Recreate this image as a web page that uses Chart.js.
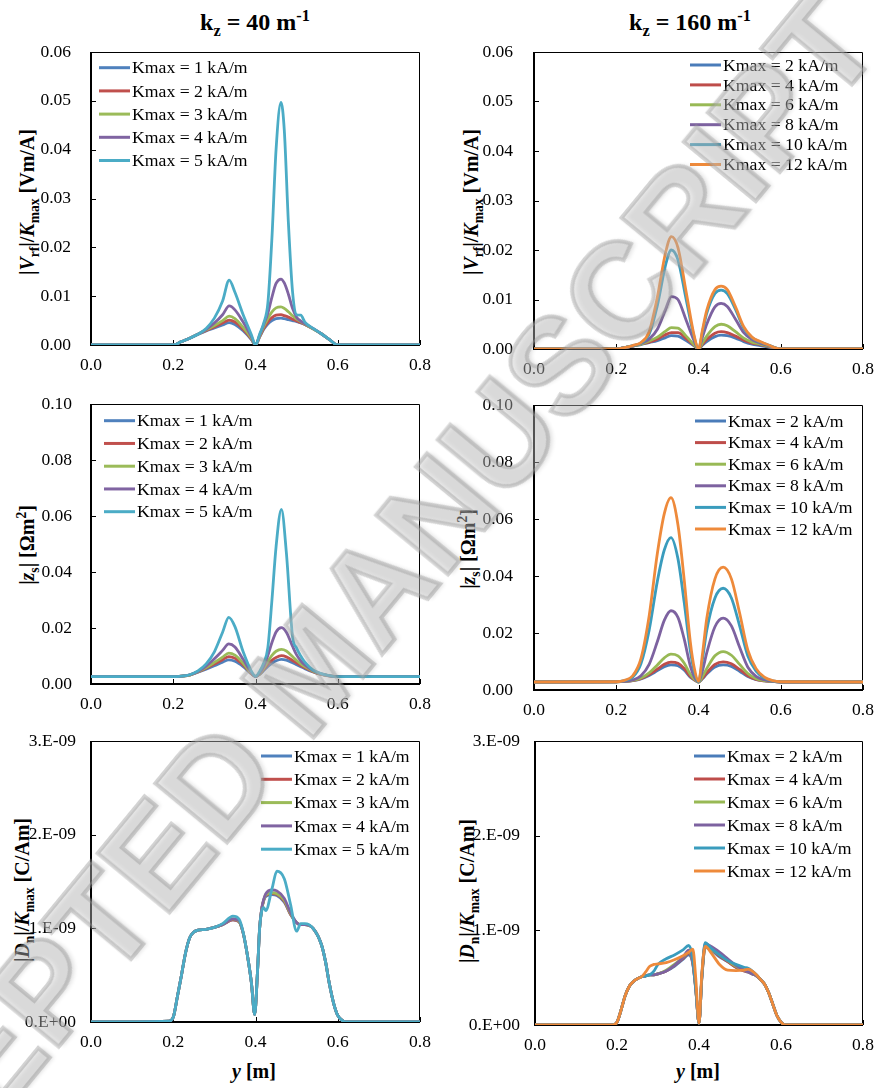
<!DOCTYPE html>
<html>
<head>
<meta charset="utf-8">
<script src="https://cdn.jsdelivr.net/npm/chart.js@4.4.1/dist/chart.umd.min.js"></script>
<style>
  body { margin: 0; background: #fff; }
  #page { position: relative; width: 875px; height: 1088px; overflow: hidden; background: #fff;
          font-family: 'Liberation Serif', 'Times New Roman', serif; color: #000; }
  canvas { position: absolute; }
  .lbl { position: absolute; white-space: nowrap; font-weight: bold; line-height: 1; }
  .lbl sub, .lbl sup { line-height: 0; font-size: 0.68em; }
  .ctitle { font-size: 24px; transform: translate(-50%, -50%); }
  .ytitle { font-size: 20px; transform: translate(-50%, -50%) rotate(-90deg); }
  .xtitle { font-size: 20px; transform: translate(-50%, -50%); }
  #mark { position: absolute; left: 310px; top: 668px; white-space: nowrap; pointer-events: none;
          font-family: 'Liberation Sans', sans-serif; font-weight: bold; font-size: 136px; line-height: 1;
          color: rgba(205, 205, 205, 0.4); -webkit-text-stroke: 4px rgba(150, 150, 150, 0.42);
          text-shadow: 3px 3px 4px rgba(0, 0, 0, 0.12);
          transform: translate(-50%, -50%) rotate(-50.5deg); }
</style>
</head>
<body>
<div id="page">
  <div class="lbl ctitle" style="left:255px;top:22px">k<sub>z</sub> = 40 m<sup>-1</sup></div>
  <div class="lbl ctitle" style="left:690px;top:22px">k<sub>z</sub> = 160 m<sup>-1</sup></div>

  <div class="lbl ytitle" style="left:27px;top:202px">|<i>V</i><sub>rf</sub>|/<i>K</i><sub>max</sub> [Vm/A]</div>
  <div class="lbl ytitle" style="left:471px;top:202px">|<i>V</i><sub>rf</sub>|/<i>K</i><sub>max</sub> [Vm/A]</div>
  <div class="lbl ytitle" style="left:27px;top:545px">|<i>z</i><sub>s</sub>| [Ωm<sup>2</sup>]</div>
  <div class="lbl ytitle" style="left:468px;top:549px">|<i>z</i><sub>s</sub>| [Ωm<sup>2</sup>]</div>
  <div class="lbl ytitle" style="left:22px;top:890px">|<i>D</i><sub>n</sub>|/<i>K</i><sub>max</sub> [C/Am]</div>
  <div class="lbl ytitle" style="left:467px;top:891px">|<i>D</i><sub>n</sub>|/<i>K</i><sub>max</sub> [C/Am]</div>

  <div class="lbl xtitle" style="left:254px;top:1071px"><i>y</i> [m]</div>
  <div class="lbl xtitle" style="left:698px;top:1071px"><i>y</i> [m]</div>

  <div id="mark">ACCEPTED MANUSCRIPT</div>
</div>

<script>
// legend labels
const kmax40 = ['Kmax = 1 kA/m', 'Kmax = 2 kA/m', 'Kmax = 3 kA/m', 'Kmax = 4 kA/m', 'Kmax = 5 kA/m'];
const kmax160 = ['Kmax = 2 kA/m', 'Kmax = 4 kA/m', 'Kmax = 6 kA/m', 'Kmax = 8 kA/m', 'Kmax = 10 kA/m', 'Kmax = 12 kA/m'];

const colors40 = ['#4F81BD', '#C0504D', '#9BBB59', '#8064A2', '#4BACC6'];
const colors160 = ['#4A7CB9', '#BE4D4A', '#98B955', '#7D62A0', '#3A9CBD', '#EE8A3B'];

// |Vrf|/Kmax, kz = 40
const yA = [0, 0.2, 0.22, 0.24, 0.26, 0.28, 0.30, 0.32, 0.336, 0.35, 0.37, 0.39, 0.40, 0.41, 0.42, 0.43, 0.44, 0.45, 0.462, 0.47, 0.48, 0.49, 0.50, 0.51, 0.52, 0.54, 0.56, 0.58, 0.60, 0.8];
const vrf40_k1 = [0, 0, 0.0007, 0.0014, 0.0022, 0.0029, 0.0035, 0.0041, 0.0046, 0.0042, 0.0029, 0.0011, 0, 0.0016, 0.0032, 0.0043, 0.0050, 0.0054, 0.0055, 0.0054, 0.0052, 0.0050, 0.0048, 0.0045, 0.0042, 0.0033, 0.0023, 0.0011, 0, 0];
const vrf40_k2 = [0, 0, 0.0007, 0.0014, 0.0022, 0.0030, 0.0037, 0.0045, 0.0051, 0.0047, 0.0032, 0.0012, 0, 0.0017, 0.0034, 0.0047, 0.0056, 0.0061, 0.0062, 0.0060, 0.0057, 0.0053, 0.0049, 0.0046, 0.0042, 0.0033, 0.0023, 0.0011, 0, 0];
const vrf40_k3 = [0, 0, 0.0007, 0.0014, 0.0022, 0.0031, 0.0040, 0.0050, 0.0059, 0.0054, 0.0036, 0.0014, 0, 0.0018, 0.0038, 0.0054, 0.0068, 0.0076, 0.0078, 0.0075, 0.0068, 0.0060, 0.0053, 0.0048, 0.0043, 0.0033, 0.0023, 0.0011, 0, 0];
const vrf40_k4 = [0, 0, 0.0007, 0.0014, 0.0022, 0.0032, 0.0045, 0.0062, 0.0080, 0.0072, 0.0047, 0.0017, 0, 0.0020, 0.0042, 0.0065, 0.0098, 0.0126, 0.0135, 0.0127, 0.0104, 0.0075, 0.0057, 0.0049, 0.0044, 0.0034, 0.0023, 0.0011, 0, 0];
const vrf40_k5 = [0, 0, 0.0007, 0.0014, 0.0022, 0.0034, 0.0055, 0.0090, 0.0133, 0.0108, 0.0062, 0.0021, 0, 0.0022, 0.0045, 0.0085, 0.0220, 0.0400, 0.0497, 0.0440, 0.0250, 0.0110, 0.0062, 0.0061, 0.0047, 0.0034, 0.0023, 0.0011, 0, 0];

// |Vrf|/Kmax, kz = 160
const yB = [0, 0.2, 0.22, 0.24, 0.26, 0.28, 0.30, 0.32, 0.334, 0.35, 0.37, 0.39, 0.40, 0.41, 0.42, 0.44, 0.455, 0.47, 0.49, 0.51, 0.53, 0.55, 0.57, 0.60, 0.8];
const vrf160_k2 = [0, 0, 0.0003, 0.0006, 0.0009, 0.0013, 0.0017, 0.0023, 0.0027, 0.0026, 0.0017, 0.0006, 0, 0.0008, 0.0015, 0.0025, 0.0028, 0.0027, 0.0022, 0.0015, 0.0010, 0.0007, 0.0004, 0, 0];
const vrf160_k4 = [0, 0, 0.0003, 0.0006, 0.0010, 0.0014, 0.0020, 0.0029, 0.0033, 0.0033, 0.0021, 0.0007, 0, 0.0010, 0.0019, 0.0032, 0.0035, 0.0033, 0.0026, 0.0018, 0.0012, 0.0009, 0.0005, 0, 0];
const vrf160_k6 = [0, 0, 0.0003, 0.0006, 0.0010, 0.0016, 0.0024, 0.0036, 0.0043, 0.0042, 0.0026, 0.0008, 0, 0.0013, 0.0026, 0.0045, 0.0050, 0.0047, 0.0035, 0.0022, 0.0014, 0.0010, 0.0006, 0, 0];
const vrf160_k8 = [0, 0, 0.0003, 0.0006, 0.0011, 0.0020, 0.0040, 0.0080, 0.0106, 0.0100, 0.0058, 0.0015, 0, 0.0025, 0.0050, 0.0085, 0.0092, 0.0086, 0.0060, 0.0033, 0.0019, 0.0012, 0.0007, 0, 0];
const vrf160_k10 = [0, 0, 0.0003, 0.0007, 0.0012, 0.0030, 0.0088, 0.0170, 0.0200, 0.0180, 0.0100, 0.0022, 0, 0.0036, 0.0072, 0.0112, 0.0119, 0.0112, 0.0080, 0.0042, 0.0023, 0.0014, 0.0008, 0, 0];
const vrf160_k12 = [0, 0, 0.0003, 0.0007, 0.0013, 0.0035, 0.0105, 0.0195, 0.0227, 0.0205, 0.0115, 0.0025, 0, 0.0040, 0.0078, 0.0120, 0.0127, 0.0120, 0.0085, 0.0045, 0.0024, 0.0015, 0.0008, 0, 0];

// |zs|, kz = 40
const yC = [0, 0.2, 0.22, 0.24, 0.26, 0.28, 0.30, 0.32, 0.335, 0.35, 0.37, 0.39, 0.40, 0.41, 0.42, 0.43, 0.44, 0.45, 0.463, 0.475, 0.49, 0.50, 0.51, 0.52, 0.54, 0.56, 0.58, 0.60, 0.8];
const zs40_k1 = [0.0026, 0.0026, 0.0028, 0.0032, 0.0042, 0.0053, 0.0065, 0.0078, 0.0086, 0.0081, 0.0062, 0.0036, 0.0027, 0.0034, 0.0048, 0.0063, 0.0075, 0.0083, 0.0088, 0.0085, 0.0076, 0.0069, 0.0062, 0.0055, 0.0043, 0.0034, 0.0029, 0.0026, 0.0026];
const zs40_k2 = [0.0026, 0.0026, 0.0028, 0.0032, 0.0043, 0.0056, 0.0071, 0.0087, 0.0098, 0.0092, 0.0068, 0.0037, 0.0027, 0.0035, 0.0052, 0.0070, 0.0085, 0.0095, 0.0101, 0.0097, 0.0084, 0.0075, 0.0066, 0.0058, 0.0044, 0.0034, 0.0029, 0.0026, 0.0026];
const zs40_k3 = [0.0026, 0.0026, 0.0028, 0.0032, 0.0044, 0.0059, 0.0077, 0.0096, 0.0110, 0.0103, 0.0074, 0.0038, 0.0027, 0.0036, 0.0056, 0.0080, 0.0102, 0.0117, 0.0124, 0.0118, 0.0098, 0.0084, 0.0072, 0.0062, 0.0046, 0.0035, 0.0029, 0.0026, 0.0026];
const zs40_k4 = [0.0026, 0.0026, 0.0028, 0.0033, 0.0045, 0.0064, 0.0090, 0.0120, 0.0143, 0.0132, 0.0088, 0.0041, 0.0027, 0.0039, 0.0064, 0.0102, 0.0148, 0.0186, 0.0201, 0.0185, 0.0135, 0.0104, 0.0083, 0.0068, 0.0048, 0.0036, 0.0029, 0.0026, 0.0026];
const zs40_k5 = [0.0026, 0.0026, 0.0028, 0.0033, 0.0047, 0.0072, 0.0115, 0.0185, 0.0238, 0.0205, 0.0115, 0.0046, 0.0027, 0.0045, 0.0075, 0.0130, 0.0300, 0.0490, 0.0624, 0.0470, 0.0170, 0.0128, 0.0100, 0.0078, 0.0050, 0.0037, 0.0030, 0.0026, 0.0026];

// |zs|, kz = 160
const yD = [0, 0.2, 0.22, 0.24, 0.26, 0.28, 0.30, 0.317, 0.333, 0.35, 0.365, 0.38, 0.39, 0.40, 0.41, 0.42, 0.44, 0.46, 0.48, 0.50, 0.52, 0.54, 0.56, 0.58, 0.60, 0.8];
const zs160_k2 = [0.0028, 0.0029, 0.0030, 0.0033, 0.0039, 0.0051, 0.0068, 0.0082, 0.0088, 0.0085, 0.0070, 0.0045, 0.0035, 0.0028, 0.0040, 0.0056, 0.0081, 0.0088, 0.0083, 0.0066, 0.0047, 0.0036, 0.0032, 0.0030, 0.0028, 0.0028];
const zs160_k4 = [0.0028, 0.0029, 0.0030, 0.0033, 0.0040, 0.0054, 0.0073, 0.0090, 0.0098, 0.0094, 0.0076, 0.0048, 0.0036, 0.0028, 0.0042, 0.0060, 0.0090, 0.0099, 0.0092, 0.0072, 0.0050, 0.0037, 0.0032, 0.0030, 0.0028, 0.0028];
const zs160_k6 = [0.0028, 0.0029, 0.0030, 0.0034, 0.0042, 0.0060, 0.0088, 0.0113, 0.0126, 0.0120, 0.0095, 0.0055, 0.0038, 0.0028, 0.0048, 0.0075, 0.0120, 0.0135, 0.0122, 0.0090, 0.0058, 0.0040, 0.0033, 0.0030, 0.0028, 0.0028];
const zs160_k8 = [0.0028, 0.0029, 0.0030, 0.0035, 0.0050, 0.0090, 0.0170, 0.0245, 0.0278, 0.0255, 0.0180, 0.0085, 0.0045, 0.0029, 0.0070, 0.0130, 0.0222, 0.0252, 0.0225, 0.0150, 0.0080, 0.0048, 0.0036, 0.0030, 0.0028, 0.0028];
const zs160_k10 = [0.0028, 0.0029, 0.0033, 0.0045, 0.0092, 0.0210, 0.0382, 0.0492, 0.0535, 0.0461, 0.0310, 0.0139, 0.0063, 0.0029, 0.0111, 0.0209, 0.0323, 0.0357, 0.0323, 0.0225, 0.0119, 0.0066, 0.0042, 0.0032, 0.0029, 0.0028];
const zs160_k12 = [0.0028, 0.0029, 0.0034, 0.0050, 0.0110, 0.0260, 0.0480, 0.0620, 0.0675, 0.0580, 0.0390, 0.0170, 0.0075, 0.0030, 0.0130, 0.0250, 0.0390, 0.0431, 0.0390, 0.0270, 0.0140, 0.0075, 0.0045, 0.0033, 0.0029, 0.0028];

// |Dn|/Kmax in units of 1E-09 C/Am, kz = 40
const yE = [0, 0.19, 0.2, 0.21, 0.22, 0.23, 0.24, 0.25, 0.26, 0.28, 0.30, 0.32, 0.345, 0.36, 0.37, 0.38, 0.39, 0.398, 0.405, 0.41, 0.415, 0.42, 0.425, 0.44, 0.452, 0.47, 0.485, 0.50, 0.51, 0.52, 0.54, 0.56, 0.57, 0.58, 0.59, 0.60, 0.61, 0.62, 0.8];
const dn40_k1 = [0, 0.01, 0.05, 0.27, 0.50, 0.74, 0.90, 0.96, 0.98, 0.99, 1.01, 1.04, 1.09, 1.07, 0.95, 0.72, 0.42, 0.08, 0.55, 1.00, 1.20, 1.30, 1.34, 1.36, 1.35, 1.28, 1.15, 1.06, 1.04, 1.04, 1.00, 0.83, 0.65, 0.40, 0.20, 0.07, 0.02, 0, 0];
const dn40_k2 = [0, 0.01, 0.05, 0.27, 0.50, 0.74, 0.90, 0.96, 0.98, 0.99, 1.01, 1.04, 1.09, 1.07, 0.95, 0.72, 0.42, 0.08, 0.55, 1.00, 1.20, 1.30, 1.35, 1.37, 1.36, 1.29, 1.15, 1.06, 1.04, 1.04, 1.00, 0.83, 0.65, 0.40, 0.20, 0.07, 0.02, 0, 0];
const dn40_k3 = [0, 0.01, 0.05, 0.27, 0.50, 0.74, 0.90, 0.96, 0.98, 0.99, 1.01, 1.04, 1.10, 1.07, 0.95, 0.72, 0.42, 0.08, 0.55, 1.00, 1.20, 1.30, 1.36, 1.38, 1.37, 1.30, 1.16, 1.06, 1.04, 1.04, 1.00, 0.83, 0.65, 0.40, 0.20, 0.07, 0.02, 0, 0];
const dn40_k4 = [0, 0.01, 0.05, 0.27, 0.50, 0.74, 0.90, 0.96, 0.98, 0.99, 1.01, 1.04, 1.10, 1.08, 0.95, 0.72, 0.42, 0.08, 0.55, 1.00, 1.21, 1.31, 1.37, 1.41, 1.40, 1.32, 1.17, 1.06, 1.04, 1.04, 1.00, 0.83, 0.65, 0.40, 0.20, 0.07, 0.02, 0, 0];
const dn40_k5 = [0, 0.01, 0.05, 0.27, 0.50, 0.74, 0.90, 0.96, 0.98, 0.99, 1.01, 1.05, 1.13, 1.10, 0.96, 0.72, 0.42, 0.08, 0.55, 1.00, 1.18, 1.22, 1.19, 1.42, 1.61, 1.53, 1.26, 0.97, 1.05, 1.05, 1.00, 0.83, 0.65, 0.40, 0.20, 0.07, 0.02, 0, 0];

// |Dn|/Kmax in units of 1E-09 C/Am, kz = 160
const yF = [0, 0.19, 0.2, 0.21, 0.22, 0.23, 0.24, 0.25, 0.26, 0.27, 0.28, 0.29, 0.30, 0.32, 0.34, 0.36, 0.375, 0.385, 0.392, 0.40, 0.407, 0.415, 0.43, 0.45, 0.47, 0.49, 0.51, 0.52, 0.53, 0.54, 0.55, 0.56, 0.57, 0.58, 0.59, 0.60, 0.61, 0.8];
const dn160_k2 = [0, 0, 0.03, 0.16, 0.31, 0.41, 0.46, 0.49, 0.51, 0.52, 0.53, 0.53, 0.54, 0.57, 0.62, 0.69, 0.74, 0.64, 0.38, 0.02, 0.50, 0.82, 0.79, 0.72, 0.67, 0.61, 0.57, 0.56, 0.54, 0.52, 0.48, 0.43, 0.34, 0.22, 0.10, 0.03, 0, 0];
const dn160_k4 = [0, 0, 0.03, 0.16, 0.31, 0.41, 0.46, 0.49, 0.51, 0.52, 0.53, 0.53, 0.54, 0.57, 0.63, 0.70, 0.76, 0.65, 0.38, 0.02, 0.50, 0.82, 0.80, 0.73, 0.67, 0.61, 0.57, 0.56, 0.54, 0.52, 0.48, 0.43, 0.34, 0.22, 0.10, 0.03, 0, 0];
const dn160_k6 = [0, 0, 0.03, 0.16, 0.31, 0.41, 0.46, 0.49, 0.51, 0.52, 0.53, 0.53, 0.54, 0.58, 0.64, 0.71, 0.77, 0.66, 0.39, 0.02, 0.51, 0.83, 0.80, 0.74, 0.68, 0.62, 0.58, 0.56, 0.54, 0.52, 0.48, 0.43, 0.34, 0.22, 0.10, 0.03, 0, 0];
const dn160_k8 = [0, 0, 0.03, 0.16, 0.31, 0.41, 0.46, 0.49, 0.51, 0.52, 0.53, 0.53, 0.54, 0.57, 0.63, 0.71, 0.79, 0.66, 0.39, 0.02, 0.52, 0.86, 0.83, 0.77, 0.70, 0.63, 0.58, 0.56, 0.54, 0.52, 0.48, 0.43, 0.34, 0.22, 0.10, 0.03, 0, 0];
const dn160_k10 = [0, 0, 0.03, 0.16, 0.31, 0.41, 0.46, 0.49, 0.51, 0.52, 0.53, 0.57, 0.64, 0.70, 0.74, 0.79, 0.84, 0.70, 0.40, 0.02, 0.52, 0.87, 0.81, 0.74, 0.68, 0.64, 0.61, 0.60, 0.57, 0.53, 0.48, 0.43, 0.34, 0.22, 0.10, 0.03, 0, 0];
const dn160_k12 = [0, 0, 0.03, 0.16, 0.31, 0.41, 0.46, 0.49, 0.51, 0.56, 0.62, 0.64, 0.645, 0.66, 0.69, 0.73, 0.77, 0.80, 0.50, 0.02, 0.55, 0.83, 0.76, 0.64, 0.58, 0.575, 0.58, 0.59, 0.57, 0.53, 0.48, 0.43, 0.34, 0.22, 0.10, 0.03, 0, 0];

const fmt2 = v => v.toFixed(2);
const fmtE = v => (Math.round(v) === 0 ? '0.E+00' : Math.round(v) + '.E-09');

// canvas box (page px), plot-area geometry and legend placement per panel
const panels = [
  { left: 0, top: 40, w: 440, h: 350, xs: yA, ys: [vrf40_k1, vrf40_k2, vrf40_k3, vrf40_k4, vrf40_k5],
    labels: kmax40, colors: colors40, yMax: 0.06, yStep: 0.01, yFmt: fmt2,
    yW: 91, xH: 45, tickPad: 20, padTop: 12, padRight: 20, legend: { x: 99, y: 67.7, gap: 23.2 } },
  { left: 435, top: 40, w: 440, h: 350, xs: yB, ys: [vrf160_k2, vrf160_k4, vrf160_k6, vrf160_k8, vrf160_k10, vrf160_k12],
    labels: kmax160, colors: colors160, yMax: 0.06, yStep: 0.01, yFmt: fmt2,
    yW: 99, xH: 41, tickPad: 21, padTop: 12, padRight: 12, legend: { x: 690, y: 65, gap: 19.9 } },
  { left: 0, top: 392, w: 440, h: 335, xs: yC, ys: [zs40_k1, zs40_k2, zs40_k3, zs40_k4, zs40_k5],
    labels: kmax40, colors: colors40, yMax: 0.10, yStep: 0.02, yFmt: fmt2,
    yW: 91, xH: 43, tickPad: 19, padTop: 12, padRight: 20, legend: { x: 104, y: 420.7, gap: 22.75 } },
  { left: 435, top: 392, w: 440, h: 335, xs: yD, ys: [zs160_k2, zs160_k4, zs160_k6, zs160_k8, zs160_k10, zs160_k12],
    labels: kmax160, colors: colors160, yMax: 0.10, yStep: 0.02, yFmt: fmt2,
    yW: 99, xH: 37, tickPad: 21, padTop: 13, padRight: 12, legend: { x: 695, y: 421, gap: 21.6 } },
  { left: 0, top: 728, w: 440, h: 332, xs: yE, ys: [dn40_k1, dn40_k2, dn40_k3, dn40_k4, dn40_k5],
    labels: kmax40, colors: colors40, yMax: 3, yStep: 1, yFmt: fmtE,
    yW: 91, xH: 38, tickPad: 15, padTop: 13, padRight: 20, legend: { x: 261, y: 756, gap: 23.3 } },
  { left: 435, top: 728, w: 440, h: 332, xs: yF, ys: [dn160_k2, dn160_k4, dn160_k6, dn160_k8, dn160_k10, dn160_k12],
    labels: kmax160, colors: colors160, yMax: 3, yStep: 1, yFmt: fmtE,
    yW: 100, xH: 35, tickPad: 15, padTop: 13, padRight: 12, legend: { x: 694, y: 756, gap: 23 } }
];

const tickFont = { family: 'Liberation Serif', size: 17.5 };

// frame with inside tick marks, and an in-plot legend
const framePlugin = {
  id: 'frame',
  beforeDatasetsDraw(chart) {
    const { ctx, chartArea: a } = chart;
    const sx = chart.scales.x, sy = chart.scales.y;
    ctx.save();
    ctx.strokeStyle = '#000';
    ctx.lineWidth = 1;
    ctx.beginPath();
    ctx.moveTo(a.left, a.top + 0.5); ctx.lineTo(a.right - 0.5, a.top + 0.5); ctx.lineTo(a.right - 0.5, a.bottom);
    sx.ticks.forEach(t => {
      const px = Math.round(sx.getPixelForValue(t.value)) + 0.5;
      ctx.moveTo(px, a.bottom); ctx.lineTo(px, a.bottom - 5);
    });
    sy.ticks.forEach(t => {
      const py = Math.round(sy.getPixelForValue(t.value)) + 0.5;
      ctx.moveTo(a.left, py); ctx.lineTo(a.left + 5, py);
    });
    ctx.stroke();
    ctx.lineWidth = 2;
    ctx.beginPath();
    ctx.moveTo(a.left, a.top); ctx.lineTo(a.left, a.bottom); ctx.lineTo(a.right, a.bottom);
    ctx.stroke();
    ctx.restore();
  },
  afterDraw(chart, args, opts) {
    const ctx = chart.ctx;
    ctx.save();
    ctx.font = '17.7px "Liberation Serif"';
    ctx.textBaseline = 'middle';
    ctx.fillStyle = '#000';
    chart.data.datasets.forEach((ds, i) => {
      const y = opts.y + i * opts.gap;
      ctx.strokeStyle = ds.borderColor;
      ctx.lineWidth = 3;
      ctx.beginPath();
      ctx.moveTo(opts.x, y); ctx.lineTo(opts.x + 31, y);
      ctx.stroke();
      ctx.fillText(ds.label, opts.x + 33, y + 1);
    });
    ctx.restore();
  }
};

const page = document.getElementById('page');
const markEl = document.getElementById('mark');

panels.forEach(p => {
  const cv = document.createElement('canvas');
  cv.width = p.w; cv.height = p.h;
  cv.style.left = p.left + 'px'; cv.style.top = p.top + 'px';
  cv.style.width = p.w + 'px'; cv.style.height = p.h + 'px';
  page.insertBefore(cv, markEl);

  const datasets = p.ys.map((vals, i) => ({
    label: p.labels[i],
    data: p.xs.map((x, j) => ({ x: x, y: vals[j] })),
    borderColor: p.colors[i],
    backgroundColor: p.colors[i],
    borderWidth: 2.8,
    pointRadius: 0,
    fill: false,
    cubicInterpolationMode: 'monotone',
    order: p.ys.length - i
  }));

  new Chart(cv.getContext('2d'), {
    type: 'line',
    data: { datasets: datasets },
    options: {
      responsive: false,
      animation: false,
      devicePixelRatio: 1,
      layout: { padding: { left: 0, top: p.padTop, right: p.padRight, bottom: 0 } },
      plugins: {
        legend: { display: false },
        tooltip: { enabled: false },
        frame: { x: p.legend.x - p.left, y: p.legend.y - p.top, gap: p.legend.gap }
      },
      scales: {
        x: {
          type: 'linear', min: 0, max: 0.8,
          grid: { display: false, drawTicks: false },
          border: { display: false },
          ticks: { stepSize: 0.2, padding: 10, color: '#000', font: tickFont, maxRotation: 0,
                   callback: v => v.toFixed(1) },
          afterFit: s => { s.height = p.xH; s.paddingLeft = 0; s.paddingRight = 0; }
        },
        y: {
          type: 'linear', min: 0, max: p.yMax,
          grid: { display: false, drawTicks: false },
          border: { display: false },
          ticks: { stepSize: p.yStep, padding: p.tickPad, color: '#000', font: tickFont,
                   callback: p.yFmt },
          afterFit: s => { s.width = p.yW; s.paddingTop = 0; s.paddingBottom = 0; }
        }
      }
    },
    plugins: [framePlugin]
  });
});
</script>
</body>
</html>
